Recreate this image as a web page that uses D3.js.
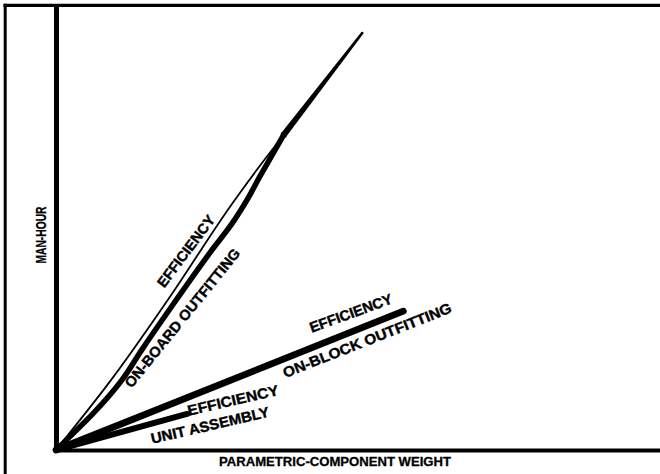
<!DOCTYPE html>
<html>
<head>
<meta charset="utf-8">
<script src="https://cdn.jsdelivr.net/npm/d3@7"></script>
<style>
  html, body { margin: 0; padding: 0; background: #fff; }
  svg { display: block; }
</style>
</head>
<body>
<script>
// Man-hours against parametric-component weight, in relative units (0–100).
const efficiencyOnBoard = [[0, 0], [9.1, 15.7], [18.5, 33.7], [29.6, 56.2], [33.6, 63.6], [37.7, 70.8]];
const onBoardOutfitting = [[0, 0], [10.9, 15.7], [14.2, 22.5], [19.9, 33.7], [25.8, 44.9], [29.1, 50.8], [31.8, 56.6], [33.8, 61.6], [35.8, 66.3], [37.7, 70.8]];
const onBoardUpper = [[37.7, 70.8], [50.7, 93.7]];
const onBlockOutfitting = [[0, 0], [57.5, 31.2]];
const unitAssembly = [[0, 0], [21.7, 8.1]];

const labelTexts = ["EFFICIENCY", "ON-BOARD OUTFITTING", "EFFICIENCY", "ON-BLOCK OUTFITTING", "EFFICIENCY", "UNIT ASSEMBLY"];
const xTitle = "PARAMETRIC-COMPONENT WEIGHT";
const yTitle = "MAN-HOUR";

// Label placement (data-space centre, rotation, set length in px)
const labelLayout = [
  { at: [21.5, 44.7], angle: -53,   len: 86 },
  { at: [20.9, 29.7], angle: -51,   len: 174 },
  { at: [48.8, 30.8], angle: -20,   len: 87 },
  { at: [51.5, 24.7], angle: -21.5, len: 180 },
  { at: [29.3, 11.2], angle: -13,   len: 93 },
  { at: [25.5, 5.6],  angle: -13,   len: 121 }
];

const W = 660, H = 474;
const font = "'Liberation Sans', Arial, Helvetica, sans-serif";

const svg = d3.select("body").append("svg")
  .attr("width", W).attr("height", H)
  .attr("viewBox", `0 0 ${W} ${H}`);

const x = d3.scaleLinear().domain([0, 100]).range([56, 660]);
const y = d3.scaleLinear().domain([0, 100]).range([450, 5]);

// outer frame: top and left rules
svg.append("line").attr("x1", 3.5).attr("x2", W).attr("y1", 5.3).attr("y2", 5.3)
  .attr("stroke", "#000").attr("stroke-width", 3.2);
svg.append("line").attr("x1", 5.2).attr("x2", 5.2).attr("y1", 3.8).attr("y2", H)
  .attr("stroke", "#000").attr("stroke-width", 3);

// axes without ticks
const gx = svg.append("g").attr("transform", `translate(0,${y(0)})`)
  .call(d3.axisBottom(x).tickValues([]).tickSizeOuter(0));
gx.select(".domain").attr("stroke", "#000").attr("stroke-width", 4);
const gy = svg.append("g").attr("transform", `translate(${x(0)},0)`)
  .call(d3.axisLeft(y).tickValues([]).tickSizeOuter(0));
gy.select(".domain").attr("stroke", "#000").attr("stroke-width", 5);

const line = d3.line().x(d => x(d[0])).y(d => y(d[1]));
const curve = d3.line().x(d => x(d[0])).y(d => y(d[1])).curve(d3.curveMonotoneY);

function drawLine(data, width, gen) {
  svg.append("path").datum(data)
    .attr("d", gen || line)
    .attr("fill", "none")
    .attr("stroke", "#000")
    .attr("stroke-width", width)
    .attr("stroke-linecap", "round")
    .attr("stroke-linejoin", "round");
}

drawLine(unitAssembly, 6);
drawLine(onBlockOutfitting, 6.8);
drawLine(onBoardOutfitting, 5.5, curve);
drawLine(efficiencyOnBoard, 1.8, curve);

// upper common stretch of the on-board lines, tapering toward its end
function taper(data, w0, w1) {
  const [a, b] = data.map(d => [x(d[0]), y(d[1])]);
  const dx = b[0] - a[0], dy = b[1] - a[1];
  const L = Math.hypot(dx, dy);
  const nx = -dy / L, ny = dx / L;
  const pts = [
    [a[0] + nx * w0 / 2, a[1] + ny * w0 / 2],
    [b[0] + nx * w1 / 2, b[1] + ny * w1 / 2],
    [b[0] - nx * w1 / 2, b[1] - ny * w1 / 2],
    [a[0] - nx * w0 / 2, a[1] - ny * w0 / 2]
  ];
  svg.append("path").attr("d", d3.line()(pts) + "Z").attr("fill", "#000");
  svg.append("circle").attr("cx", b[0]).attr("cy", b[1]).attr("r", w1 / 2).attr("fill", "#000");
  svg.append("circle").attr("cx", a[0]).attr("cy", a[1]).attr("r", w0 / 2).attr("fill", "#000");
}
taper(onBoardUpper, 6.2, 2.6);

// line labels
labelTexts.forEach((t, i) => {
  const L = labelLayout[i];
  svg.append("text")
    .attr("transform", `translate(${x(L.at[0])},${y(L.at[1])}) rotate(${L.angle})`)
    .attr("text-anchor", "middle")
    .attr("dy", "0.36em")
    .attr("font-family", font)
    .attr("font-weight", "bold")
    .attr("font-size", 14.5)
    .attr("textLength", L.len)
    .attr("lengthAdjust", "spacingAndGlyphs")
    .attr("fill", "#000")
    .attr("stroke", "#000")
    .attr("stroke-width", 0.4)
    .text(t);
});

// axis titles
svg.append("text")
  .attr("x", 335).attr("y", 466)
  .attr("text-anchor", "middle")
  .attr("font-family", font).attr("font-weight", "bold").attr("font-size", 13)
  .attr("stroke", "#000").attr("stroke-width", 0.3)
  .attr("textLength", 232).attr("lengthAdjust", "spacingAndGlyphs")
  .text(xTitle);

svg.append("text")
  .attr("transform", "translate(46,235) rotate(-90)")
  .attr("text-anchor", "middle")
  .attr("font-family", font).attr("font-weight", "bold").attr("font-size", 15)
  .attr("stroke", "#000").attr("stroke-width", 0.3)
  .attr("textLength", 57).attr("lengthAdjust", "spacingAndGlyphs")
  .text(yTitle);
</script>
</body>
</html>
